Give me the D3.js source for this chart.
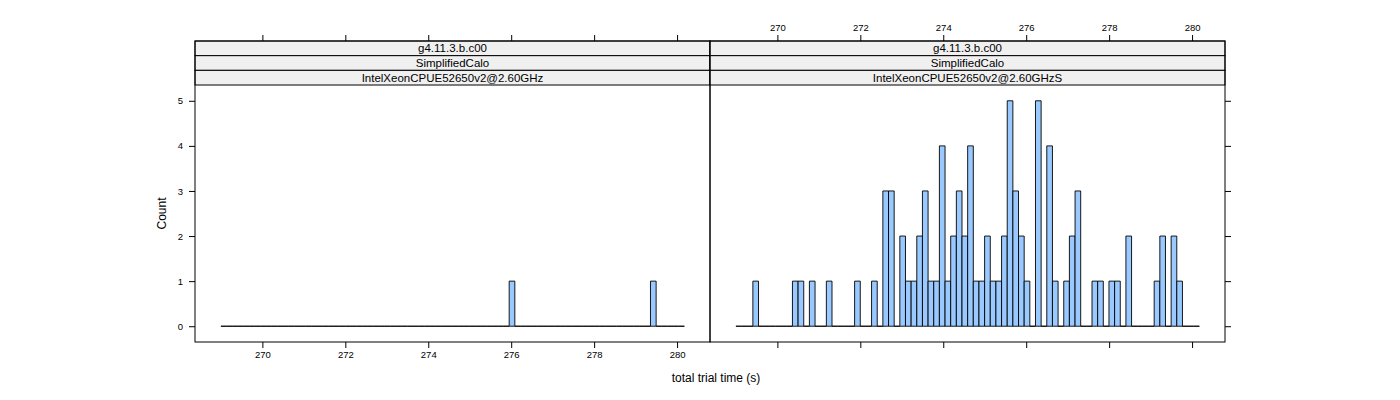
<!DOCTYPE html>
<html lang="en">
<head>
    <meta charset="UTF-8">
    <title>total trial time histogram</title>
    <script src="https://d3js.org/d3.v7.min.js"></script>
    <style>
        body { margin: 0; background: white; }
        text { font-family: "Liberation Sans", Arial, sans-serif; }
    </style>
</head>
<body>
    <div id="chart"></div>
    <script>
        // histogram breaks (seconds)
        const breakStart = 269.0;
        const binWidth = 0.1363;

        const stripLabels = ["g4.11.3.b.c00", "SimplifiedCalo"];
        const panelNames = ["IntelXeonCPUE52650v2@2.60GHz", "IntelXeonCPUE52650v2@2.60GHzS"];

        // counts per bin, 82 bins
        const countsLeft = [
            0, 0, 0, 0, 0, 0, 0, 0, 0, 0,
            0, 0, 0, 0, 0, 0, 0, 0, 0, 0,
            0, 0, 0, 0, 0, 0, 0, 0, 0, 0,
            0, 0, 0, 0, 0, 0, 0, 0, 0, 0,
            0, 0, 0, 0, 0, 0, 0, 0, 0, 0,
            0, 1, 0, 0, 0, 0, 0, 0, 0, 0,
            0, 0, 0, 0, 0, 0, 0, 0, 0, 0,
            0, 0, 0, 0, 0, 0, 1, 0, 0, 0,
            0, 0
        ];
        const countsRight = [
            0, 0, 0, 1, 0, 0, 0, 0, 0, 0,
            1, 1, 0, 1, 0, 0, 1, 0, 0, 0,
            0, 1, 0, 0, 1, 0, 3, 3, 0, 2,
            1, 1, 2, 3, 1, 1, 4, 1, 2, 3,
            2, 4, 1, 1, 2, 1, 1, 2, 5, 3,
            2, 1, 0, 5, 0, 4, 1, 0, 1, 2,
            3, 0, 0, 1, 1, 0, 1, 1, 0, 2,
            0, 0, 0, 0, 1, 2, 0, 2, 1, 0,
            0, 0
        ];

        const xTicks = [270, 272, 274, 276, 278, 280];
        const yTicks = [0, 1, 2, 3, 4, 5];

        const width = 1400, height = 400;
        const panelW = 515;
        const stripTop = 41, stripH = 14.67;
        const plotTop = stripTop + 3 * stripH, plotBottom = 342;
        const xDomain = [268.375, 280.794];

        const svg = d3.select("#chart").append("svg")
            .attr("width", width)
            .attr("height", height);

        const y = d3.scaleLinear().domain([-0.35, 5.35]).range([plotBottom, plotTop]);

        const panels = [
            { name: panelNames[0], counts: countsLeft, x0: 195 },
            { name: panelNames[1], counts: countsRight, x0: 710 }
        ];

        panels.forEach(function (p, pi) {
            const x = d3.scaleLinear().domain(xDomain).range([p.x0, p.x0 + panelW]);
            const g = svg.append("g");

            // bars as closed outlines, so empty bins still draw a flat line like lattice
            g.selectAll("path.bar")
                .data(p.counts)
                .enter()
                .append("path")
                .attr("class", "bar")
                .attr("d", function (d, i) {
                    const x1 = x(breakStart + i * binWidth), x2 = x(breakStart + (i + 1) * binWidth);
                    const path = d3.path();
                    path.moveTo(x1, y(0));
                    path.lineTo(x1, y(d));
                    path.lineTo(x2, y(d));
                    path.lineTo(x2, y(0));
                    path.closePath();
                    return path.toString();
                })
                .attr("fill", "#99c9ff")
                .attr("stroke", "#000")
                .attr("stroke-width", 0.9);

            // strips
            const strips = stripLabels.concat([p.name]);
            strips.forEach(function (s, si) {
                g.append("rect")
                    .attr("x", p.x0)
                    .attr("y", stripTop + si * stripH)
                    .attr("width", panelW)
                    .attr("height", stripH)
                    .attr("fill", "#f0f0f0")
                    .attr("stroke", "#000")
                    .attr("stroke-width", 1);
                g.append("text")
                    .attr("x", p.x0 + panelW / 2)
                    .attr("y", stripTop + si * stripH + stripH / 2 + 4)
                    .attr("text-anchor", "middle")
                    .style("font-size", "11.5px")
                    .text(s);
            });

            // panel box
            g.append("rect")
                .attr("x", p.x0)
                .attr("y", stripTop)
                .attr("width", panelW)
                .attr("height", plotBottom - stripTop)
                .attr("fill", "none")
                .attr("stroke", "#000")
                .attr("stroke-width", 1);

            // x axes: labels bottom on the left panel, top on the right one
            const bottom = g.append("g")
                .attr("transform", "translate(0," + plotBottom + ")")
                .call(d3.axisBottom(x).tickValues(xTicks).tickSize(6).tickPadding(3)
                    .tickFormat(pi === 0 ? d3.format("d") : ""));
            const top = g.append("g")
                .attr("transform", "translate(0," + stripTop + ")")
                .call(d3.axisTop(x).tickValues(xTicks).tickSize(6).tickPadding(4)
                    .tickFormat(pi === 1 ? d3.format("d") : ""));

            // y axis: labels left on the first panel, ticks only right of the second
            let yAx;
            if (pi === 0) {
                yAx = g.append("g")
                    .attr("transform", "translate(" + p.x0 + ",0)")
                    .call(d3.axisLeft(y).tickValues(yTicks).tickSize(6).tickPadding(6)
                        .tickFormat(d3.format("d")));
            } else {
                yAx = g.append("g")
                    .attr("transform", "translate(" + (p.x0 + panelW) + ",0)")
                    .call(d3.axisRight(y).tickValues(yTicks).tickSize(6).tickFormat(""));
            }

            [bottom, top, yAx].forEach(function (a) {
                a.select(".domain").remove();
                a.selectAll("text")
                    .style("font-family", "'Liberation Sans', Arial, sans-serif")
                    .style("font-size", "9.5px")
                    .attr("fill", "#000");
                a.selectAll("line").attr("stroke", "#000");
            });
        });

        // axis titles
        svg.append("text")
            .attr("x", 716)
            .attr("y", 382)
            .attr("text-anchor", "middle")
            .style("font-size", "12px")
            .text("total trial time (s)");

        svg.append("text")
            .attr("transform", "translate(166," + ((plotTop + plotBottom) / 2) + ") rotate(-90)")
            .attr("text-anchor", "middle")
            .style("font-size", "12px")
            .text("Count");
    </script>
</body>
</html>
